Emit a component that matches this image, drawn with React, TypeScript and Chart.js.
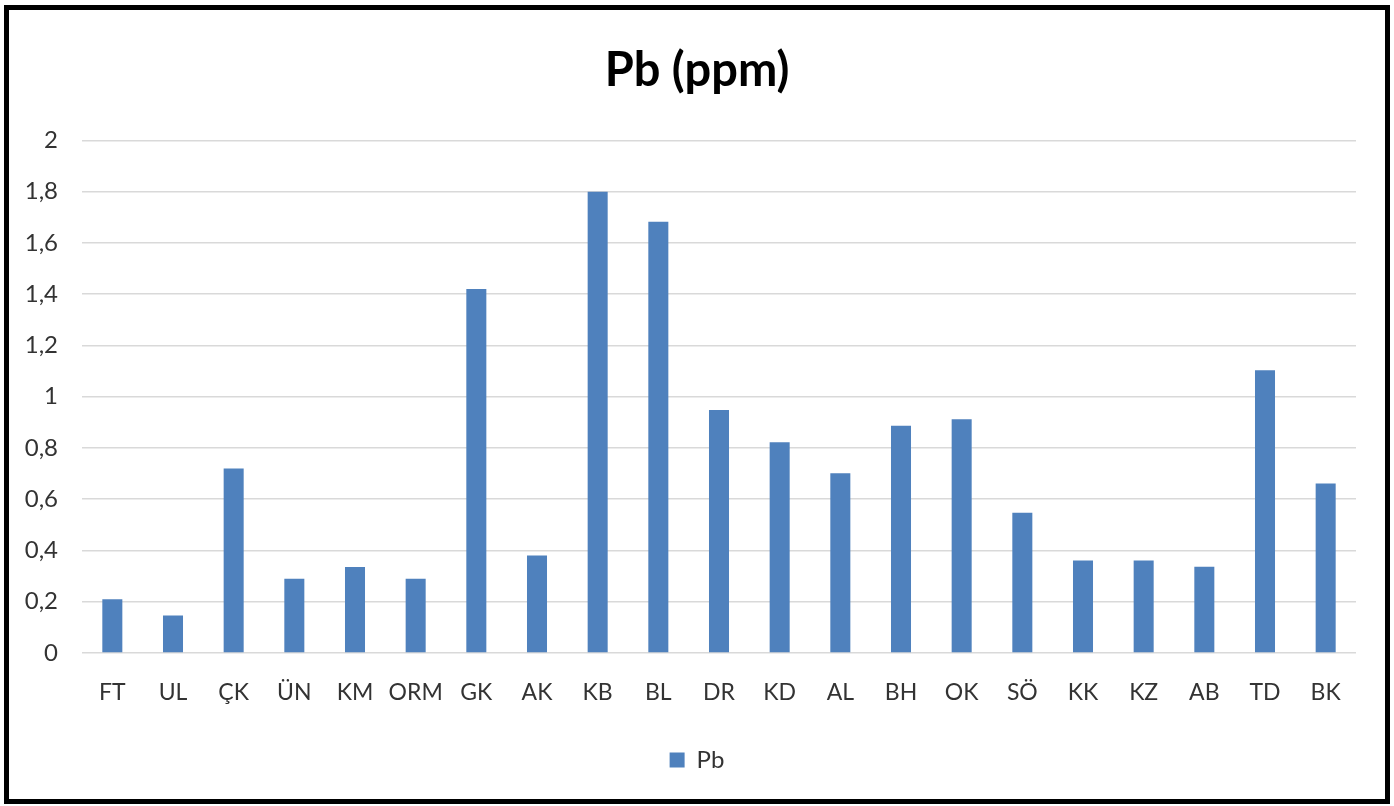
import React, { useEffect, useRef } from "react";
import { Chart, registerables } from "chart.js";

Chart.register(...registerables);

const categories = ["FT", "UL", "ÇK", "ÜN", "KM", "ORM", "GK", "AK", "KB", "BL", "DR", "KD", "AL", "BH", "OK", "SÖ", "KK", "KZ", "AB", "TD", "BK"];
const pbValues = [0.21, 0.146, 0.72, 0.29, 0.336, 0.29, 1.42, 0.38, 1.8, 1.683, 0.948, 0.822, 0.701, 0.887, 0.912, 0.547, 0.361, 0.361, 0.337, 1.103, 0.661];
const seriesName = "Pb";
const titleText = "Pb (ppm)";

const FONT = "Lato, 'Open Sans', sans-serif";

// Centre title and legend on the whole canvas (as in the reference) rather than the padded area
const recenterPlugin = {
  id: "recenter",
  afterLayout(chart: any) {
    const shift = 19;
    for (const box of [chart.legend, chart.titleBlock]) {
      if (box) {
        box.left += shift;
        box.right += shift;
        if (typeof box.adjustHitBoxes === "function") box.adjustHitBoxes();
      }
    }
  },
};

export default function App() {
  const ref = useRef<HTMLCanvasElement | null>(null);
  useEffect(() => {
    if (!ref.current) return;
    const chart = new Chart(ref.current, {
      type: "bar",
      data: {
        labels: categories,
        datasets: [
          {
            label: seriesName,
            data: pbValues,
            backgroundColor: "#4F81BD",
            borderWidth: 0,
            barPercentage: 0.33,
            categoryPercentage: 1,
          },
        ],
      },
      plugins: [recenterPlugin],
      options: {
        animation: false,
        responsive: false,
        maintainAspectRatio: false,
        layout: { padding: { left: 0, right: 38, top: 0, bottom: 24 } },
        plugins: {
          tooltip: { enabled: false },
          title: {
            display: true,
            text: titleText,
            color: "#000000",
            font: { family: FONT, size: 47, weight: "bold" },
            padding: { top: 43, bottom: 41 },
          },
          legend: {
            display: true,
            position: "bottom",
            labels: {
              color: "#333333",
              font: { family: FONT, size: 24 },
              boxWidth: 15,
              boxHeight: 15,
              padding: 12,
            },
          },
        },
        scales: {
          x: {
            grid: { display: false, drawTicks: false },
            border: { display: false },
            ticks: {
              color: "#333333",
              font: { family: FONT, size: 23 },
              padding: 26,
              maxRotation: 0,
              autoSkip: false,
            },
            afterFit: (s: any) => {
              s.height = 83;
            },
          },
          y: {
            min: 0,
            max: 2,
            grid: { color: "#d9d9d9", lineWidth: 1.5, drawTicks: false },
            border: { display: false },
            ticks: {
              stepSize: 0.2,
              color: "#333333",
              font: { family: FONT, size: 24 },
              padding: 24,
              callback: (v: any) => {
                const n = Math.round(Number(v) * 10) / 10;
                return String(n).replace(".", ",");
              },
            },
            afterFit: (s: any) => {
              s.width = 82;
            },
          },
        },
      },
    });
    return () => chart.destroy();
  }, []);

  return (
    <div style={{ position: "fixed", left: 0, top: 0, width: 1394, height: 806, background: "#ffffff" }}>
      <canvas ref={ref} width={1394} height={806} style={{ position: "absolute", left: 0, top: 0, width: 1394, height: 806 }} />
      <div
        style={{
          position: "absolute",
          left: 4,
          top: 5,
          width: 1386,
          height: 799,
          border: "5px solid #000",
          boxSizing: "border-box",
          pointerEvents: "none",
        }}
      />
    </div>
  );
}
